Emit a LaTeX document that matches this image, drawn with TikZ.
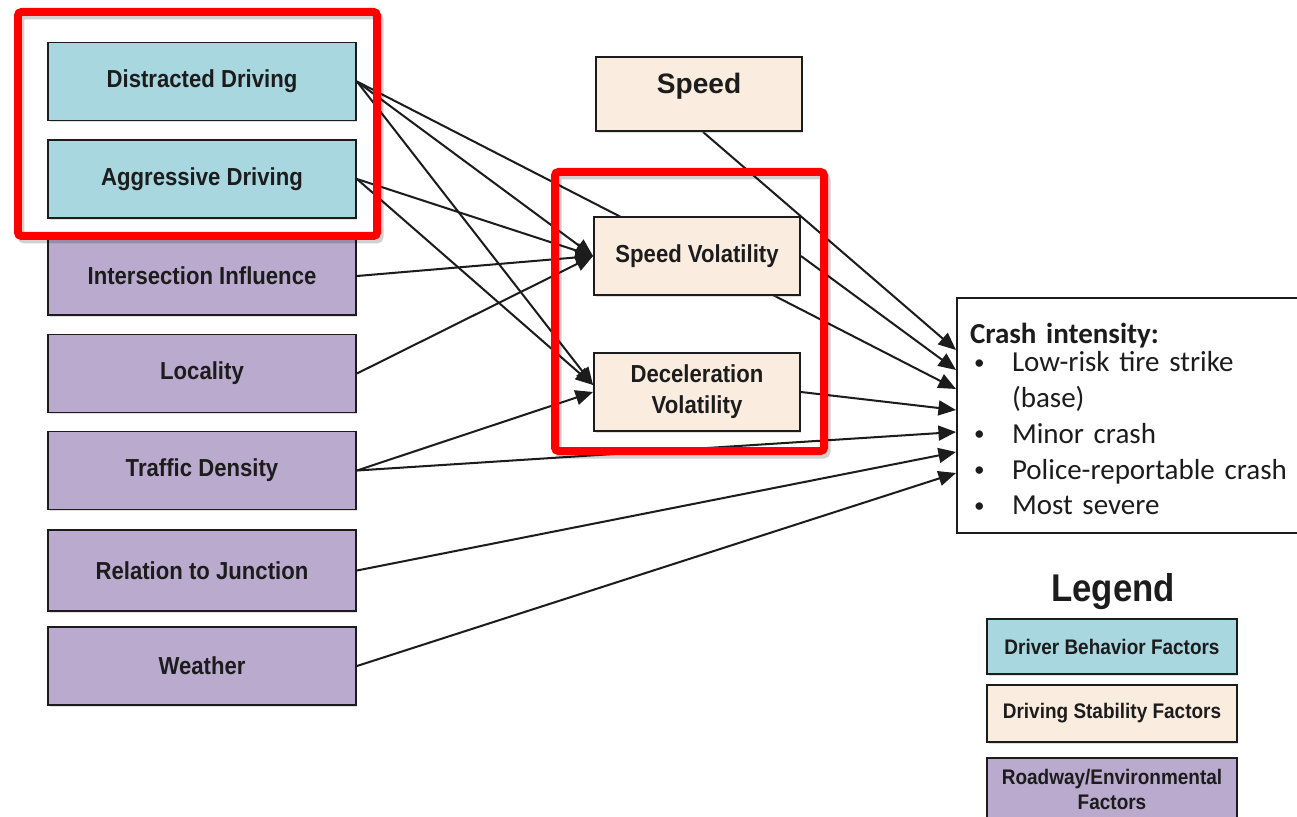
\documentclass[tikz,border=0pt]{standalone}
\usepackage{fontspec}
\setmainfont{Liberation Sans}
\newfontfamily\boxfont{Liberation Sans}[FakeStretch=0.9]
\newfontfamily\calfont{Carlito}
\usetikzlibrary{arrows.meta,backgrounds,shadows}

\definecolor{behav}{RGB}{168,215,224}
\definecolor{stab}{RGB}{251,236,224}
\definecolor{road}{RGB}{186,171,206}
\definecolor{hilite}{RGB}{255,0,0}
\definecolor{ink}{RGB}{28,28,28}

\newcommand{\critem}{\makebox[0.84cm][l]{\hspace{0.08cm}\raisebox{0.05cm}{\fontsize{12}{12}\selectfont •}}}

\tikzset{
  factor/.style={draw=ink, line width=1.1pt, inner sep=0pt,
    minimum width=6.16cm, minimum height=1.56cm, text=ink, align=center,
    font=\boxfont\bfseries\fontsize{14}{17.6}\selectfont,
    drop shadow={shadow xshift=0.03cm, shadow yshift=-0.04cm, opacity=0.25}},
  stabbox/.style={factor, fill=stab, minimum width=4.12cm},
  legbox/.style={factor, minimum width=5cm,
    font=\boxfont\bfseries\fontsize{12}{14.6}\selectfont},
  arr/.style={-{Triangle[length=10pt,width=8.5pt]}, line width=1.15pt, draw=ink},
  hibox/.style={draw=hilite, line width=0.16cm, rounded corners=2pt},
  hishadow/.style={draw=black, opacity=0.18, line width=0.14cm, rounded corners=2pt}
}

\begin{document}
\begin{tikzpicture}[x=0.02cm, y=-0.02cm]
\useasboundingbox (0,0) rectangle (1297,817);
\clip (0,0) rectangle (1297,817);

% factor boxes on the left
\node[factor, fill=behav] (dd)  at (202,81.5)  {Distracted Driving};
\node[factor, fill=behav] (ad)  at (202,179)   {Aggressive Driving};
\node[factor, fill=road]  (ii)  at (202,276)   {Intersection Influence};
\node[factor, fill=road]  (loc) at (202,373.5) {Locality};
\node[factor, fill=road]  (td)  at (202,470.5) {Traffic Density};
\node[factor, fill=road, minimum height=1.62cm] (rj) at (202,570.5) {Relation to Junction};
\node[factor, fill=road]  (wx)  at (202,666)   {Weather};

% driving stability boxes
\node[stabbox, minimum height=1.48cm, text height=0.3cm, text depth=0.3cm,
      font=\bfseries\fontsize{16}{18}\selectfont] (speed) at (699,94) {Speed};
\node[stabbox] (sv) at (697,256) {Speed Volatility};
\node[stabbox] (dv) at (697,392) {Deceleration\\Volatility};

% outcome box
\node[draw=ink, line width=1.1pt, fill=white, inner xsep=0.26cm, inner ysep=0pt,
      text width=6.44cm, minimum height=4.7cm, align=left, text=ink,
      font=\calfont\fontsize{16.5}{20.4}\selectfont] (crash) at (1131,415.5)
  {\rule{0pt}{0.56cm}{\bfseries Crash intensity:}\\[-0.16cm]
   \critem Low-risk tire strike\\
   \hspace*{0.84cm}(base)\\
   \critem Minor crash\\
   \critem Police-reportable crash\\
   \critem Most severe};

% arrow entry points on the outcome box
\coordinate (k1) at (956,350);
\coordinate (k2) at (956,370);
\coordinate (k3) at (956,389);
\coordinate (k4) at (956,410);
\coordinate (k5) at (956,432);
\coordinate (k6) at (956,452);
\coordinate (k7) at (956,473);

% legend
\node[anchor=base, text=ink, font=\boxfont\bfseries\fontsize{22}{24}\selectfont] (legend) at (1113,601) {Legend};
\node[legbox, fill=behav, minimum height=1.1cm]  (lg1) at (1112,646.5) {Driver Behavior Factors};
\node[legbox, fill=stab,  minimum height=1.14cm] (lg2) at (1112,713.5) {Driving Stability Factors};
\node[legbox, fill=road,  minimum height=1.26cm] (lg3) at (1112,789.5) {Roadway/Environmental\\Factors};

% connectors
\begin{scope}[on background layer]
  \draw[arr] (dd.east)  -- (sv.west);
  \draw[arr] (ad.east)  -- (sv.west);
  \draw[arr] (ii.east)  -- (sv.west);
  \draw[arr] (loc.east) -- (sv.west);
  \draw[arr] (dd.east)  -- ([yshift=0.14cm]dv.west);
  \draw[arr] (ad.east)  -- ([yshift=0.14cm]dv.west);
  \draw[arr] (td.east)  -- (dv.west);
  \draw[arr] ([xshift=0.08cm]speed.south) -- (k1);
  \draw[arr] (sv.east)  -- (k2);
  \draw[arr] (dd.east)  -- (k3);
  \draw[arr] (dv.east)  -- (k4);
  \draw[arr] (td.east)  -- (k5);
  \draw[arr] (rj.east)  -- (k6);
  \draw[arr] (wx.east)  -- (k7);
\end{scope}

% highlight frames
\draw[hishadow] (21,16) rectangle (380,240);
\draw[hishadow] (558,176) rectangle (827,455);
\draw[hibox] (18,12) rectangle (377,236);
\draw[hibox] (555,172) rectangle (824,451);
\end{tikzpicture}
\end{document}
